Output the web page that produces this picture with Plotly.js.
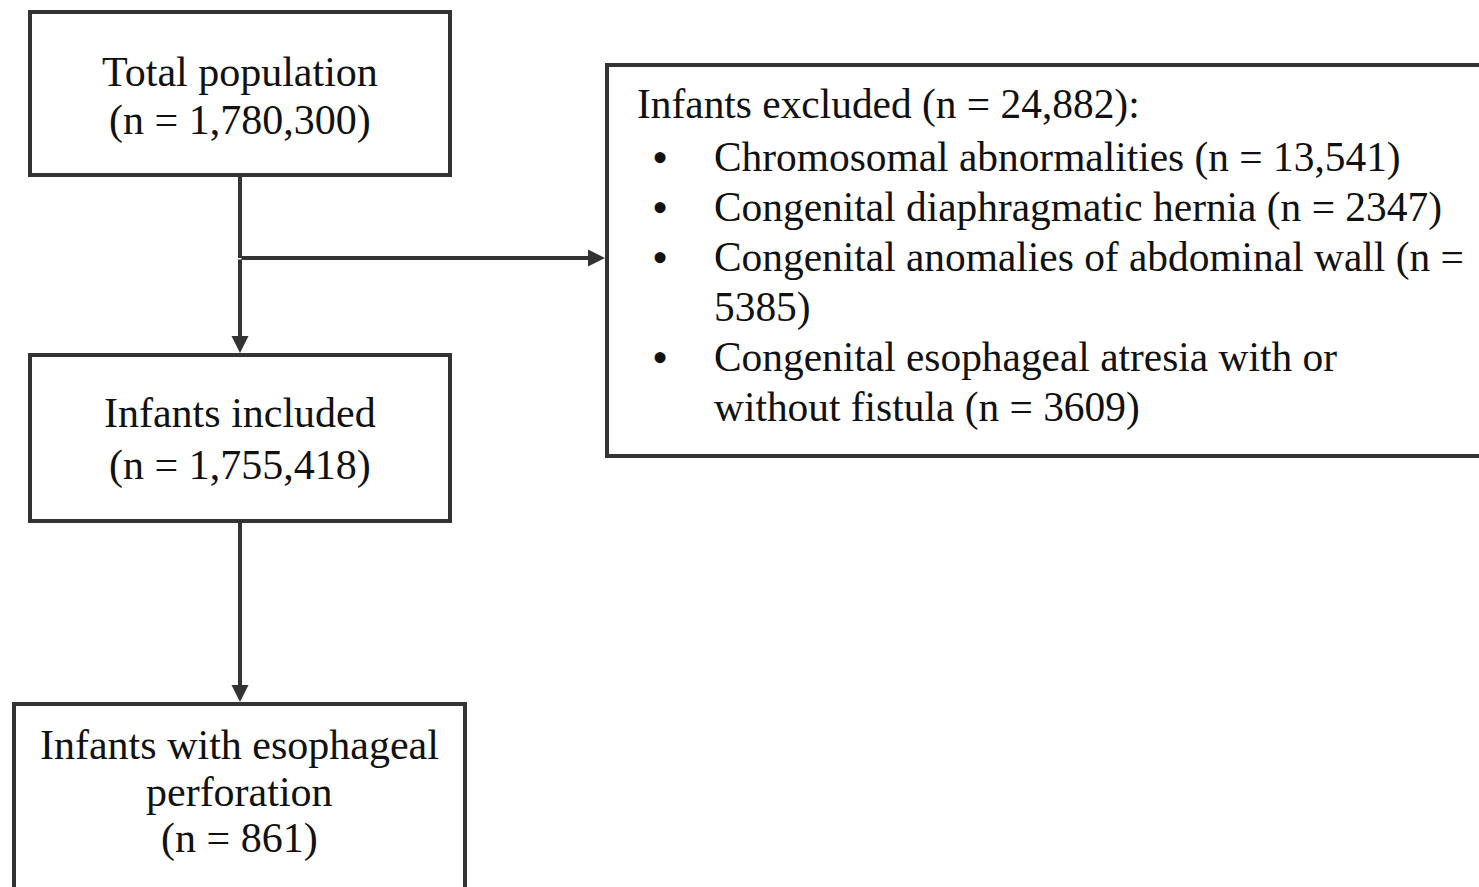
<!DOCTYPE html>
<html>
<head>
<meta charset="utf-8">
<script src="https://cdn.plot.ly/plotly-3.0.1.min.js"></script>
<style>html,body{margin:0;padding:0;background:#fff;}#chart{width:1479px;height:887px;}</style>
</head>
<body>
<div id="chart"></div>
<script>
// ---- data ----
const boxTitles = ["Total population", "Infants included", "Infants with esophageal perforation"];
const boxCounts = ["1,780,300", "1,755,418", "861"];
const excludedTitle = "Infants excluded";
const excludedTotal = "24,882";
const excludedReasons = [
  "Chromosomal abnormalities",
  "Congenital diaphragmatic hernia",
  "Congenital anomalies of abdominal wall",
  "Congenital esophageal atresia with or without fistula"
];
const excludedCounts = ["13,541", "2347", "5385", "3609"];

// ---- layout geometry (pixels, y downward) ----
const FONT = "Liberation Serif, Times New Roman, serif";
const TXT = "#111111";
const LINE = "#333333";
const FS = 42;
const FS_EX = 41.4;

const boxes = [
  {x0: 30, x1: 450, y0: 12, y1: 175, lines: [[boxTitles[0]], ["(n = " + boxCounts[0] + ")"]], ys: [72, 120]},
  {x0: 30, x1: 450, y0: 355, y1: 521, lines: [[boxTitles[1]], ["(n = " + boxCounts[1] + ")"]], ys: [413, 465]},
  {x0: 14, x1: 465, y0: 704, y1: 900, lines: [["Infants with esophageal"], ["perforation"], ["(n = " + boxCounts[2] + ")"]], ys: [745, 792, 838]}
];
const exBox = {x0: 607, x1: 1500, y0: 65, y1: 456};

function wrap(s, max) {
  const words = s.split(" "); const out = []; let cur = "";
  for (const w of words) {
    if (cur && (cur + " " + w).length > max) { out.push(cur); cur = w; }
    else cur = cur ? cur + " " + w : w;
  }
  if (cur) out.push(cur);
  return out;
}

const shapes = [];
const annotations = [];

boxes.forEach(b => {
  shapes.push({type: "rect", xref: "x", yref: "y", x0: b.x0, x1: b.x1, y0: b.y0, y1: b.y1,
    line: {color: LINE, width: 4}, fillcolor: "rgba(0,0,0,0)"});
  b.lines.forEach((l, i) => {
    annotations.push({x: (b.x0 + b.x1) / 2, y: b.ys[i], xref: "x", yref: "y", text: l[0],
      showarrow: false, xanchor: "center", yanchor: "middle",
      font: {family: FONT, size: FS, color: TXT}});
  });
});

shapes.push({type: "rect", xref: "x", yref: "y", x0: exBox.x0, x1: exBox.x1, y0: exBox.y0, y1: exBox.y1,
  line: {color: LINE, width: 4}, fillcolor: "rgba(0,0,0,0)"});

annotations.push({x: 635, y: 104, xref: "x", yref: "y", text: excludedTitle + " (n = " + excludedTotal + "):",
  showarrow: false, xanchor: "left", yanchor: "middle", font: {family: FONT, size: FS_EX, color: TXT}});

let y = 157;
const lineStep = 50;
excludedReasons.forEach((r, i) => {
  const lines = wrap(r + " (n = " + excludedCounts[i] + ")", 43);
  annotations.push({x: 660, y: y, xref: "x", yref: "y", text: "•", showarrow: false,
    xanchor: "center", yanchor: "middle", font: {family: FONT, size: 46, color: TXT}});
  lines.forEach(l => {
    annotations.push({x: 712, y: y, xref: "x", yref: "y", text: l, showarrow: false,
      xanchor: "left", yanchor: "middle", font: {family: FONT, size: FS_EX, color: TXT}});
    y += lineStep;
  });
});

// connectors
const cx = 240;
shapes.push({type: "line", xref: "x", yref: "y", x0: cx, x1: cx, y0: boxes[0].y1, y1: 258, line: {color: LINE, width: 4}});
const arrows = [
  {x: cx, y: boxes[1].y0 - 2, ax: cx, ay: 258},
  {x: exBox.x0 - 2, y: 258, ax: cx, ay: 258},
  {x: cx, y: boxes[2].y0 - 2, ax: cx, ay: boxes[1].y1}
];
arrows.forEach(a => annotations.push({x: a.x, y: a.y, ax: a.ax, ay: a.ay, xref: "x", yref: "y",
  axref: "x", ayref: "y", text: "", showarrow: true, arrowhead: 2, arrowsize: 0.85,
  arrowwidth: 4, arrowcolor: LINE, standoff: 0}));

const layout = {
  width: 1479, height: 887,
  margin: {l: 0, r: 0, t: 0, b: 0},
  paper_bgcolor: "#ffffff", plot_bgcolor: "#ffffff",
  xaxis: {range: [0, 1479], visible: false, fixedrange: true},
  yaxis: {range: [887, 0], visible: false, fixedrange: true},
  showlegend: false,
  shapes: shapes,
  annotations: annotations
};

Plotly.newPlot("chart", [{x: [], y: [], type: "scatter", mode: "markers"}], layout, {displayModeBar: false, staticPlot: true});
</script>
</body>
</html>
